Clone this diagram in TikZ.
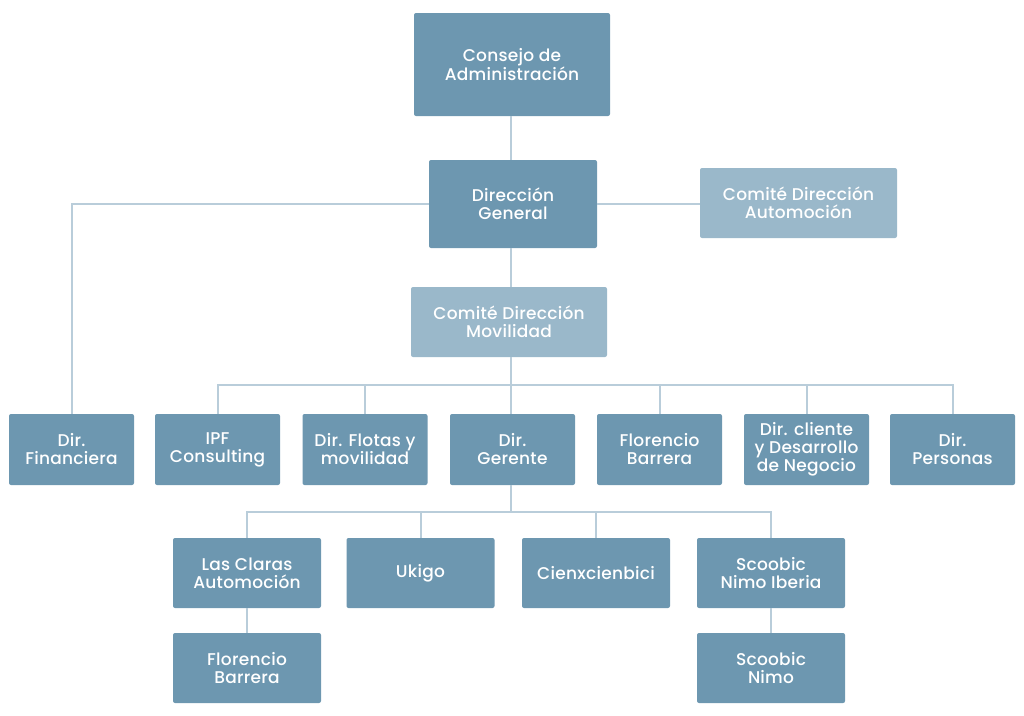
\documentclass[tikz,border=0pt]{standalone}
\usepackage{fontspec}
\setmainfont{Poppins}[UprightFont=* Medium,LetterSpace=1.5]
\definecolor{boxdark}{HTML}{6D97B0}
\definecolor{boxlight}{HTML}{9AB8CA}
\definecolor{linec}{HTML}{B9CDDA}
\begin{document}
\begin{tikzpicture}[x=1pt,y=-1pt,
  box/.style={draw=none,fill=boxdark,rounded corners=2pt,text=white,align=center,
    font=\fontsize{17}{18}\selectfont,inner sep=0pt},
  lbox/.style={box,fill=boxlight},
  conn/.style={draw=linec,line width=2pt}]
\useasboundingbox (0,0) rectangle (1024,715);
% top
\node[box,minimum width=196pt,minimum height=103pt] (cons) at (512,64.5) {Consejo de\\Administración};
\node[box,minimum width=168pt,minimum height=88pt] (dg) at (513,204) {Dirección\\General};
\node[lbox,minimum width=197pt,minimum height=70pt] (cda) at (798.5,203) {Comité Dirección\\Automoción};
\node[lbox,minimum width=196pt,minimum height=70pt] (cdm) at (509,322) {Comité Dirección\\Movilidad};
% row 3
\tikzset{r3/.style={box,minimum width=125pt,minimum height=71pt}}
\node[r3] (fin) at (71.5,449.5) {Dir.\\Financiera};
\node[r3] (ipf) at (217.5,449.5) {\raisebox{0pt}[\height][0pt]{IPF}\\Consulting\vphantom{p}};
\node[r3] (flo) at (365,449.5) {Dir. Flotas y\\movilidad};
\node[r3] (ger) at (512.5,449.5) {Dir.\\Gerente};
\node[r3] (fb) at (659.5,449.5) {Florencio\\Barrera};
\node[r3] (cli) at (806.5,449.5) {Dir. cliente\\y Desarrollo\\de Negocio};
\node[r3] (per) at (952.5,449.5) {Dir.\\Personas};
% row 4
\tikzset{r4/.style={box,minimum width=148pt,minimum height=70pt}}
\node[r4] (lca) at (247,573) {Las Claras\\Automoción};
\node[r4] (uki) at (420.5,573) {Ukigo};
\node[r4] (cien) at (596,573) {Cienxcienbici};
\node[r4] (sni) at (771,573) {Scoobic\\Nimo Iberia};
% row 5
\node[r4] (fb2) at (247,668) {Florencio\\Barrera};
\node[r4] (sn) at (771,668) {Scoobic\\Nimo};
% connectors
\coordinate (bus) at (0,385);
\coordinate (bus2) at (0,512);
\draw[conn] (cons.south -| 511,0) -- (dg.north -| 511,0);
\draw[conn] (dg.south -| 511,0) -- (cdm.north -| 511,0);
\draw[conn] (cdm.south -| 511,0) -- (ger.north -| 511,0);
\draw[conn] (fin.north) |- (dg.west);
\draw[conn] (dg.east) -- (dg.east -| cda.west);
\draw[conn] (ipf.north) |- (per.north |- bus) -- (per.north);
\foreach \n in {flo,fb,cli} \draw[conn] (\n.north) -- (\n.north |- bus);
\draw[conn] (ger.south -| 511,0) -- (bus2 -| 511,0);
\draw[conn] (lca.north) |- (sni.north |- bus2) -- (sni.north);
\foreach \n in {uki,cien} \draw[conn] (\n.north) -- (\n.north |- bus2);
\draw[conn] (lca.south) -- (fb2.north);
\draw[conn] (sni.south) -- (sn.north);
\end{tikzpicture}
\end{document}
